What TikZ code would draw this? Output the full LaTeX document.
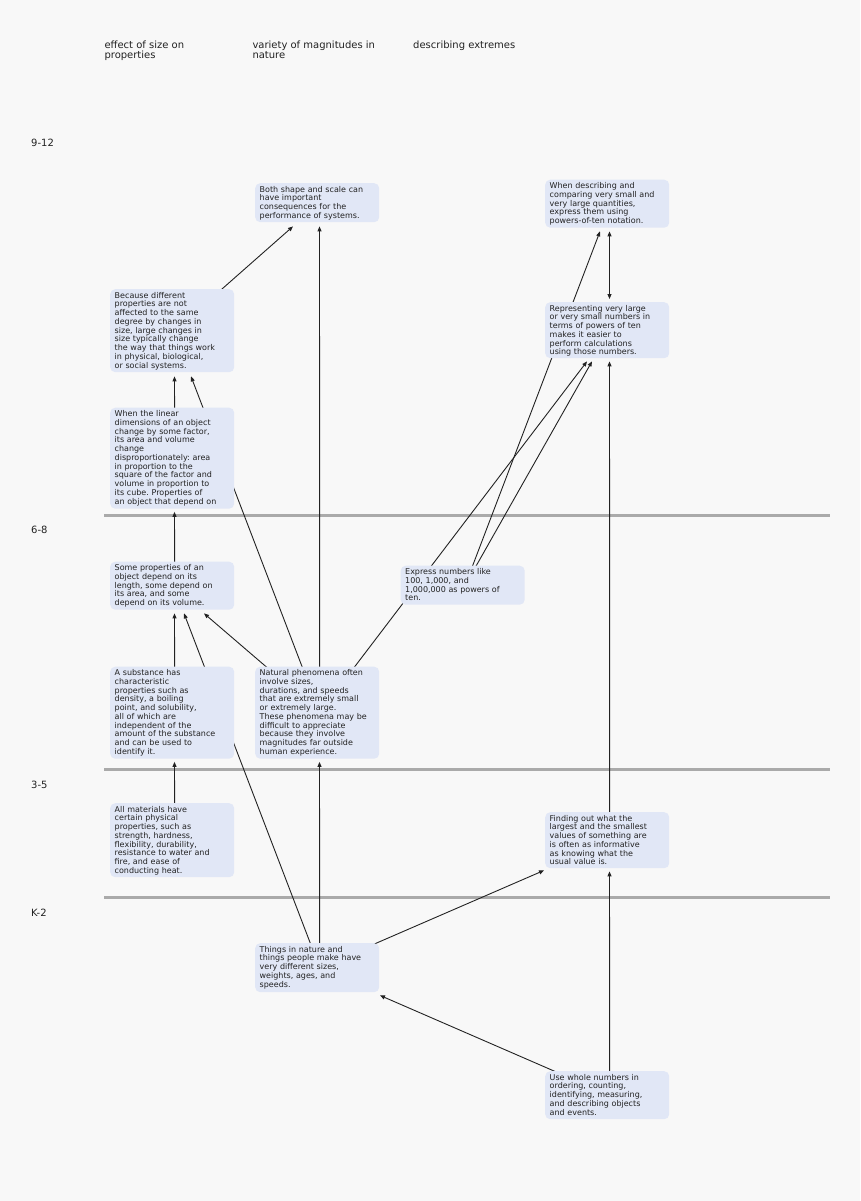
\documentclass[tikz,border=0pt]{standalone}
\usepackage{fontspec}
\setmainfont{DejaVu Sans}
\usetikzlibrary{arrows.meta,calc}
\pgfdeclarelayer{back}
\pgfdeclarelayer{background}
\pgfsetlayers{back,background,main}
\definecolor{bg}{HTML}{F8F8F8}
\definecolor{boxfill}{HTML}{E1E7F6}
\definecolor{band}{HTML}{AAAAAA}
\definecolor{ink}{HTML}{222222}
\begin{document}
\begin{tikzpicture}[x=1pt,y=-1pt,
  box/.style={fill=boxfill,rounded corners=5pt,anchor=north west,text width=115pt,
    inner xsep=4.5pt,inner ysep=3pt,align=left,font=\fontsize{8}{8.75}\selectfont\frenchspacing,
    text=ink,text height=6pt},
  hdr/.style={anchor=base west,align=left,font=\fontsize{10}{10}\selectfont,inner sep=0pt,text=ink},
  conn/.style={draw=ink,line width=0.9pt,-{Triangle[length=5pt,width=4pt]}},
  biconn/.style={draw=ink,line width=0.9pt,{Triangle[length=5pt,width=4pt]}-{Triangle[length=5pt,width=4pt]}},
  bandline/.style={draw=band,line width=3pt}]
\begin{pgfonlayer}{back}
\fill[bg] (0,0) rectangle (860,1201);
\end{pgfonlayer}
\useasboundingbox (0,0) rectangle (860,1201);

% headers and row labels
\node[hdr] (hdrA) at (104.3,59) {effect of size on\\properties};
\node[hdr] (hdrB) at (252.3,59) {variety of magnitudes in\\nature};
\node[hdr] (hdrC) at (413,49) {describing extremes};
\node[hdr] (rowA) at (31,147) {9-12};
\node[hdr] (rowB) at (31,533.3) {6-8};
\node[hdr] (rowC) at (31,788.3) {3-5};
\node[hdr] (rowD) at (31,916.7) {K-2};

% boxes
\node[box,text depth=27pt] (bothshape) at (255,183) {Both shape and scale can\\have important\\consequences for the\\performance of systems.};
\node[box,text depth=36pt] (whendesc) at (545,179.5) {When describing and\\comparing very small and\\very large quantities,\\express them using\\powers-of-ten notation.};
\node[box,text depth=71pt] (because) at (110,289) {Because different\\properties are not\\affected to the same\\degree by changes in\\size, large changes in\\size typically change\\the way that things work\\in physical, biological,\\or social systems.};
\node[box,text depth=44pt] (repr) at (545,302) {Representing very large\\or very small numbers in\\terms of powers of ten\\makes it easier to\\perform calculations\\using those numbers.};
\node[box,text depth=89pt] (whenlin) at (110,407.5) {When the linear\\dimensions of an object\\change by some factor,\\its area and volume\\change\\disproportionately: area\\in proportion to the\\square of the factor and\\volume in proportion to\\its cube. Properties of\\an object that depend on};
\node[box,text depth=36pt] (someprops) at (110,561.5) {Some properties of an\\object depend on its\\length, some depend on\\its area, and some\\depend on its volume.};
\node[box,text depth=27pt] (express) at (400.5,565.5) {Express numbers like\\100, 1,000, and\\1,000,000 as powers of\\ten.};
\node[box,text depth=80pt] (asubst) at (110,666.5) {A substance has\\characteristic\\properties such as\\density, a boiling\\point, and solubility,\\all of which are\\independent of the\\amount of the substance\\and can be used to\\identify it.};
\node[box,text depth=80pt] (natural) at (255,666.5) {Natural phenomena often\\involve sizes,\\durations, and speeds\\that are extremely small\\or extremely large.\\These phenomena may be\\difficult to appreciate\\because they involve\\magnitudes far outside\\human experience.};
\node[box,text depth=62pt] (allmat) at (110,803) {All materials have\\certain physical\\properties, such as\\strength, hardness,\\flexibility, durability,\\resistance to water and\\fire, and ease of\\conducting heat.};
\node[box,text depth=44pt] (finding) at (545,812) {Finding out what the\\largest and the smallest\\values of something are\\is often as informative\\as knowing what the\\usual value is.};
\node[box,text depth=37pt] (things) at (255,943) {Things in nature and\\things people make have\\very different sizes,\\weights, ages, and\\speeds.};
\node[box,text depth=36pt] (usewhole) at (545,1071) {Use whole numbers in\\ordering, counting,\\identifying, measuring,\\and describing objects\\and events.};

\begin{pgfonlayer}{background}
\draw[bandline] (104,515) -- (830,515);
\draw[bandline] (104,769) -- (830,769);
\draw[bandline] (104,897) -- (830,897);

\draw[conn] ([xshift=2.5pt]because.center) -- ($(bothshape.south west)+(38,4)$);
\draw[conn] ([xshift=2.5pt]natural.center) -- ($(bothshape.south west)+(64.5,4)$);
\draw[conn] ([xshift=2.5pt]express.center) -- ($(whendesc.south west)+(55,3.5)$);
\draw[biconn] ($(repr.north west)+(64.5,-3)$) -- ($(whendesc.south west)+(64.5,3.5)$);
\draw[conn] ([xshift=2.5pt]whenlin.center) -- ($(because.south west)+(64.5,4)$);
\draw[conn] ([xshift=2.5pt]natural.center) -- ($(because.south west)+(81,4)$);
\draw[conn] ([xshift=2.5pt]natural.center) -- ($(repr.south west)+(42,3)$);
\draw[conn] ([xshift=2.5pt]express.center) -- ($(repr.south west)+(47,3)$);
\draw[conn] ([xshift=2.5pt]finding.center) -- ($(repr.south west)+(64.5,3)$);
\draw[conn] ([xshift=2.5pt]someprops.center) -- ($(whenlin.south west)+(64.5,3)$);
\draw[conn] ([xshift=2.5pt]asubst.center) -- ($(someprops.south west)+(64.5,3.5)$);
\draw[conn] ([xshift=2.5pt]things.center) -- ($(someprops.south west)+(74,3.5)$);
\draw[conn] ([xshift=2.5pt]natural.center) -- ($(someprops.south west)+(94,3.5)$);
\draw[conn] ([xshift=2.5pt]allmat.center) -- ($(asubst.south west)+(64.5,3)$);
\draw[conn] ([xshift=2.5pt]things.center) -- ($(natural.south west)+(64.5,3)$);
\draw[conn] ([xshift=2.5pt]things.center) -- ($(finding.south west)+(-1,2)$);
\draw[conn] ([xshift=2.5pt]usewhole.center) -- ($(finding.south west)+(64.5,3)$);
\draw[conn] ([xshift=2.5pt]usewhole.center) -- ($(things.south west)+(125,3)$);
\end{pgfonlayer}
\end{tikzpicture}
\end{document}
